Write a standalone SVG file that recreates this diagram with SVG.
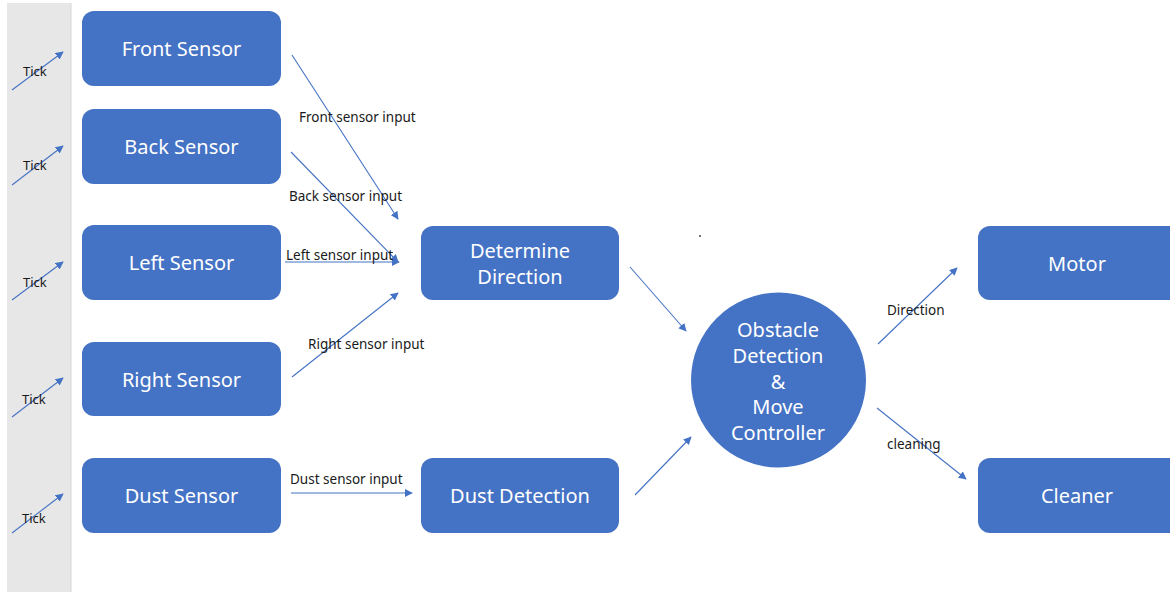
<svg xmlns="http://www.w3.org/2000/svg" width="1170" height="592" viewBox="0 0 1170 592">
<style>
.box{fill:#4472c4;}
.bt{font-family:"Noto Sans","Open Sans",sans-serif;font-size:20px;fill:#ffffff;text-anchor:middle;dominant-baseline:central;}
.lb{font-family:"Noto Sans","Open Sans",sans-serif;font-size:13.5px;fill:#1a1a1a;dominant-baseline:central;}
.tk{font-family:"Noto Sans","Open Sans",sans-serif;font-size:13px;fill:#1a1a1a;dominant-baseline:central;}
.c{stroke:#4472c4;stroke-width:1.1;fill:none;marker-end:url(#ah);}
</style>
<defs>
<marker id="ah" viewBox="0 0 10 10" refX="9" refY="5" markerWidth="8" markerHeight="8" markerUnits="userSpaceOnUse" orient="auto">
<path d="M0,0 L10,5 L0,10 z" fill="#4472c4"/>
</marker>
</defs>
<rect x="0" y="0" width="1170" height="592" fill="#ffffff"/>
<g id="lane">
<rect x="7" y="3" width="64" height="589" fill="#e7e7e7"/>
<line x1="71" y1="3" x2="71" y2="592" stroke="#d6d6d6" stroke-width="1"/>
</g>
<g id="front-sensor"><rect class="box" x="82" y="11" width="199" height="75" rx="12"/><text class="bt" x="181.5" y="48">Front Sensor</text></g>
<g id="back-sensor"><rect class="box" x="82" y="109" width="199" height="75" rx="12"/><text class="bt" x="181.5" y="146">Back Sensor</text></g>
<g id="left-sensor"><rect class="box" x="82" y="225" width="199" height="75" rx="12"/><text class="bt" x="181.5" y="262">Left Sensor</text></g>
<g id="right-sensor"><rect class="box" x="82" y="342" width="199" height="74" rx="12"/><text class="bt" x="181.5" y="379">Right Sensor</text></g>
<g id="dust-sensor"><rect class="box" x="82" y="458" width="199" height="75" rx="12"/><text class="bt" x="181.5" y="495">Dust Sensor</text></g>
<g id="determine-direction"><rect class="box" x="421" y="226" width="198" height="74" rx="12"/><text class="bt" x="520" y="250">Determine</text><text class="bt" x="520" y="276">Direction</text></g>
<g id="dust-detection"><rect class="box" x="421" y="458" width="198" height="75" rx="12"/><text class="bt" x="520" y="495">Dust Detection</text></g>
<g id="controller"><circle class="box" cx="778.5" cy="380" r="87.5"/>
<text class="bt" x="778" y="329">Obstacle</text>
<text class="bt" x="778" y="355">Detection</text>
<text class="bt" x="778" y="381">&amp;</text>
<text class="bt" x="778" y="406">Move</text>
<text class="bt" x="778" y="432">Controller</text></g>
<g id="motor"><rect class="box" x="978" y="226" width="204" height="74" rx="12"/><text class="bt" x="1077" y="263">Motor</text></g>
<g id="cleaner"><rect class="box" x="978" y="458" width="204" height="75" rx="12"/><text class="bt" x="1077" y="495">Cleaner</text></g>
<g id="dot"><circle cx="700" cy="236" r="0.9" fill="#333333"/></g>
<g id="connectors">
<line class="c" x1="12" y1="90" x2="63" y2="52"/>
<line class="c" x1="12" y1="185" x2="63" y2="146"/>
<line class="c" x1="12" y1="300" x2="63" y2="262"/>
<line class="c" x1="12" y1="417" x2="63" y2="378"/>
<line class="c" x1="12" y1="533" x2="63" y2="494"/>
<line class="c" x1="292" y1="55" x2="398" y2="219"/>
<line class="c" x1="291" y1="152" x2="398" y2="262"/>
<line class="c" x1="285" y1="262" x2="399" y2="262"/>
<line class="c" x1="292" y1="377" x2="398" y2="293"/>
<line class="c" x1="291" y1="493" x2="412" y2="493"/>
<line class="c" x1="630" y1="267" x2="686" y2="331"/>
<line class="c" x1="635" y1="495" x2="691" y2="437"/>
<line class="c" x1="878" y1="344" x2="957" y2="268"/>
<line class="c" x1="877" y1="408" x2="966" y2="479"/>
</g>
<g id="labels">
<text class="tk" x="23" y="71">Tick</text>
<text class="tk" x="23" y="165">Tick</text>
<text class="tk" x="23" y="282">Tick</text>
<text class="tk" x="22" y="399">Tick</text>
<text class="tk" x="22" y="518">Tick</text>
<text class="lb" x="299" y="117">Front sensor input</text>
<text class="lb" x="289" y="196">Back sensor input</text>
<text class="lb" x="286" y="255">Left sensor input</text>
<text class="lb" x="308" y="344">Right sensor input</text>
<text class="lb" x="290" y="479">Dust sensor input</text>
<text class="lb" x="887" y="310">Direction</text>
<text class="lb" x="887" y="444">cleaning</text>
</g>
</svg>
